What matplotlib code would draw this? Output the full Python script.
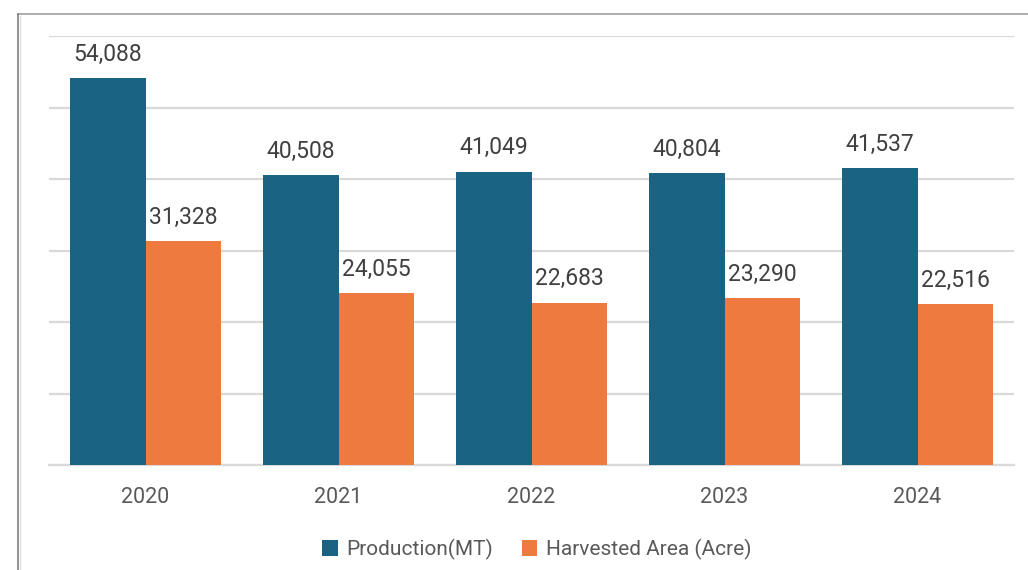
import matplotlib.pyplot as plt
import numpy as np
from matplotlib.lines import Line2D

plt.rcParams['font.family'] = ['Roboto', 'DejaVu Sans']

# Data
years = ["2020", "2021", "2022", "2023", "2024"]
production = [54088, 40508, 41049, 40804, 41537]
harvested = [31328, 24055, 22683, 23290, 22516]

blue = "#1B6382"
orange = "#EE7A3F"

fig = plt.figure(figsize=(10.28, 5.70), dpi=100)
ax = fig.add_axes([0.0477, 0.1842, 0.9387, 0.7526])

x = np.arange(len(years))
w = 0.39
b1 = ax.bar(x - w / 2, production, w, color=blue, label="Production(MT)", zorder=3)
b2 = ax.bar(x + w / 2, harvested, w, color=orange, label="Harvested Area (Acre)", zorder=3)

# value labels on top of the bars
for bars, vals in ((b1, production), (b2, harvested)):
    for r, v in zip(bars, vals):
        ax.annotate(f"{v:,}", (r.get_x() + r.get_width() / 2, v),
                    xytext=(0, 9), textcoords="offset points",
                    ha="center", va="bottom", fontsize=16.5, color="#404040")

ax.set_xlim(-0.5, len(years) - 0.5)
ax.set_ylim(0, 60000)
ax.set_yticks(np.arange(0, 60001, 10000))
ax.yaxis.grid(True, color="#D9D9D9", linewidth=1.6, zorder=0)
ax.tick_params(axis="y", left=False, labelleft=False)
ax.tick_params(axis="x", length=0, pad=16, labelsize=15.5, labelcolor="#595959")
ax.set_xticks(x)
ax.set_xticklabels(years)
for s in ("top", "right", "left"):
    ax.spines[s].set_visible(False)
ax.spines["bottom"].set_color("#D9D9D9")
ax.spines["bottom"].set_linewidth(1.6)

leg = fig.legend(loc="center", bbox_to_anchor=(0.522, 0.036), ncol=2, frameon=False,
                 fontsize=15, handlelength=0.75, handleheight=0.75,
                 handletextpad=0.4, columnspacing=1.4)
for t in leg.get_texts():
    t.set_color("#595959")

# outer frame (top and left edge)
fig.add_artist(Line2D([18 / 1028, 1.0], [1 - 14 / 570, 1 - 14 / 570],
                      transform=fig.transFigure, color="#A0A0A0", linewidth=1.2))
fig.add_artist(Line2D([18 / 1028, 18 / 1028], [0, 1 - 14 / 570],
                      transform=fig.transFigure, color="#808080", linewidth=1.2))
fig.add_artist(Line2D([20 / 1028, 20 / 1028], [0, 1 - 16 / 570],
                      transform=fig.transFigure, color="#E0E0E0", linewidth=1.0))

fig.savefig("out.png", dpi=100)
